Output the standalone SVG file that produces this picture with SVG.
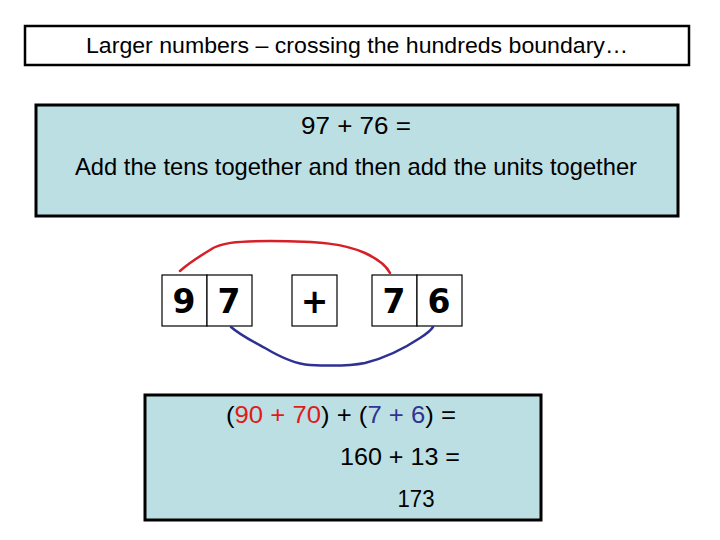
<svg xmlns="http://www.w3.org/2000/svg" width="720" height="540" viewBox="0 0 720 540">
<style>
.t{font-family:"Liberation Sans","DejaVu Sans",sans-serif;fill:#000;text-anchor:middle}
.box{fill:#bcdfe3;stroke:#000;stroke-width:3}
.cell{fill:#fff;stroke:#000;stroke-width:1.2}
.dig{font-family:"DejaVu Sans","Liberation Sans",sans-serif;font-weight:bold;font-size:33px;text-anchor:middle;fill:#000}
.r{fill:#e01b1b}
.b{fill:#2f3590}
</style>
<rect width="720" height="540" fill="#fff"/>
<g id="title">
<rect x="25" y="26" width="664" height="39" fill="#fff" stroke="#000" stroke-width="2.5"/>
<text class="t" x="357" y="53" font-size="22" textLength="542" lengthAdjust="spacingAndGlyphs">Larger numbers – crossing the hundreds boundary…</text>
</g>
<g id="question">
<rect class="box" x="36" y="105" width="642" height="111"/>
<text class="t" x="356" y="134" font-size="23" textLength="110" lengthAdjust="spacingAndGlyphs">97 + 76 =</text>
<text class="t" x="356" y="175" font-size="24" textLength="562" lengthAdjust="spacingAndGlyphs">Add the tens together and then add the units together</text>
</g>
<g id="n97">
<rect class="cell" x="162" y="275" width="45" height="51"/>
<rect class="cell" x="207" y="275" width="45" height="51"/>
<text class="dig" x="184" y="313">9</text>
<text class="dig" x="229" y="313">7</text>
</g>
<g id="plus">
<rect class="cell" x="292" y="275" width="45" height="51"/>
<text class="dig" x="314.5" y="313">+</text>
</g>
<g id="n76">
<rect class="cell" x="372" y="275" width="45" height="51"/>
<rect class="cell" x="417" y="275" width="45" height="51"/>
<text class="dig" x="394" y="313">7</text>
<text class="dig" x="439" y="313">6</text>
</g>
<g id="connectors" fill="none" stroke-width="2.5" stroke-linecap="round">
<path d="M180 271 C190 262 200 256 210 250 C220 243 235 241 270 241 C320 241 345 244 365 253 C378 259 386 265 390 273" stroke="#d61f26"/>
<path d="M231 327 C240 335 252 341 265 348 C280 357 295 364 310 365 C330 366 350 366 365 363 C385 358 405 348 420 338 C428 333 431 330 433 327" stroke="#2e3192"/>
</g>
<g id="answer">
<rect class="box" x="145" y="395" width="396" height="125"/>
<text class="t" x="341" y="423" font-size="24" textLength="230" lengthAdjust="spacingAndGlyphs">(<tspan class="r">90 + 70</tspan>) + (<tspan class="b">7 + 6</tspan>) =</text>
<text class="t" x="400" y="465" font-size="24" textLength="120" lengthAdjust="spacingAndGlyphs">160 + 13 =</text>
<text class="t" x="416" y="507" font-size="24" textLength="37" lengthAdjust="spacingAndGlyphs">173</text>
</g>
</svg>
